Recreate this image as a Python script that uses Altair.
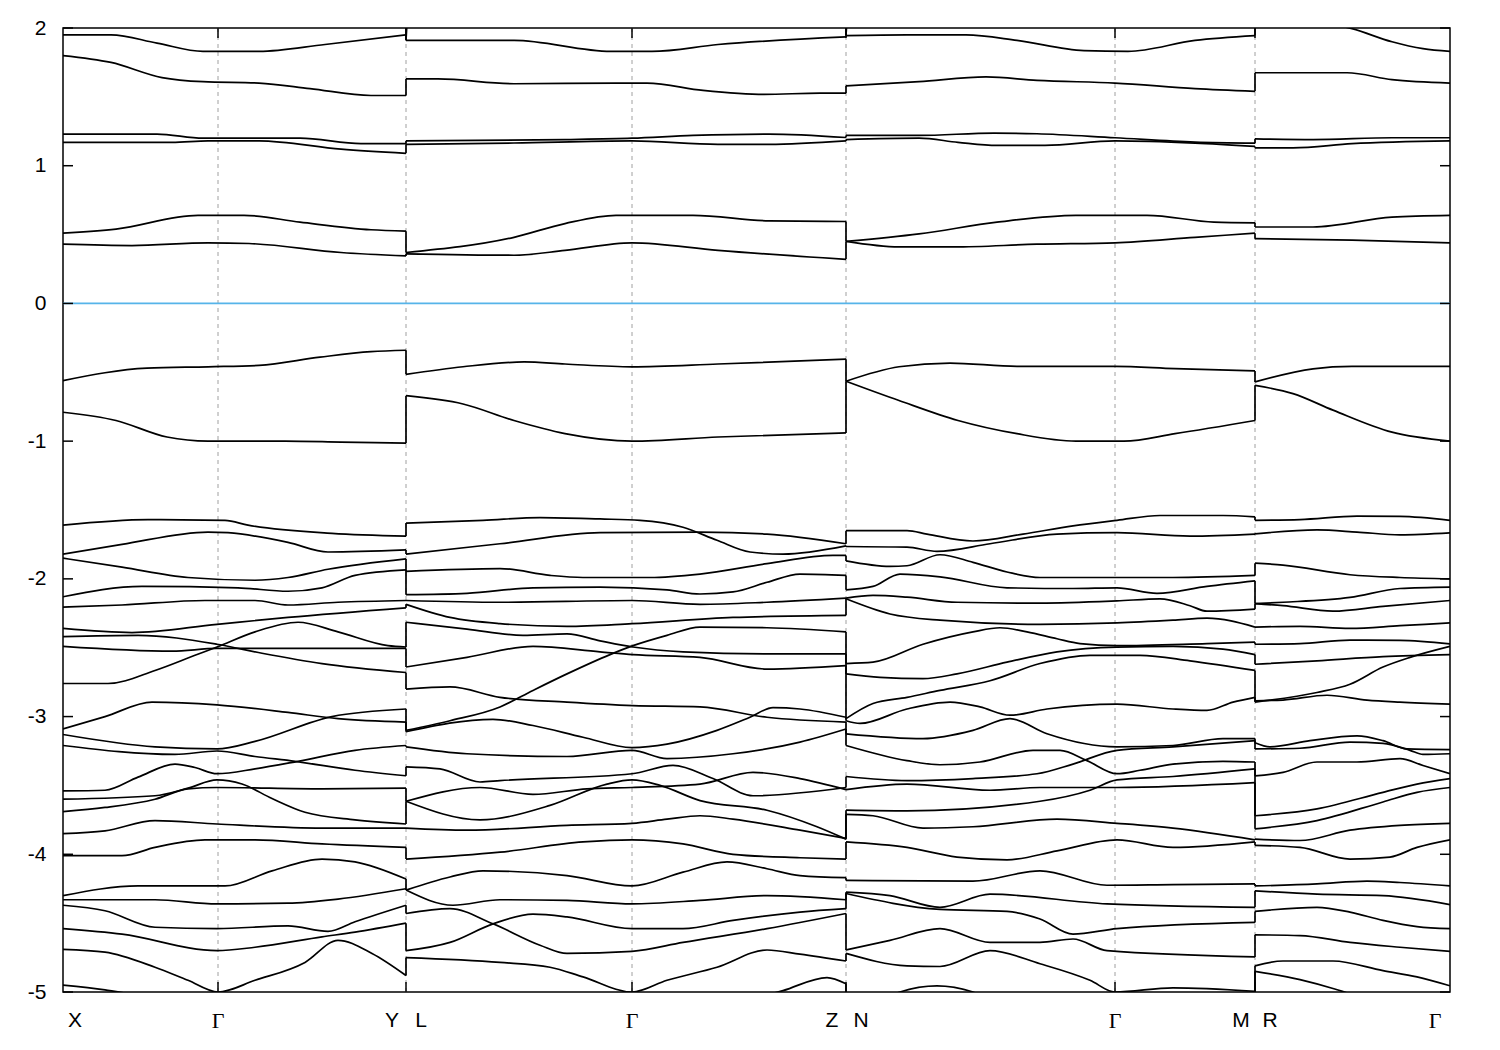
import altair as alt
import pandas as pd

# ---------------- high-symmetry points (k-path distance) ----------------
K_X, K_G1, K_Y, K_G2, K_Z, K_G3, K_M, K_G4 = 0.0, 1.55, 3.43, 5.69, 7.83, 10.52, 11.92, 13.87
TICK_K = [K_G1, K_Y, K_G2, K_Z, K_G3, K_M]
CENTER_LABELS = ["Γ", "Γ", "Γ"]
CENTER_K = [K_G1, K_G2, K_G3]
LEFT_LABELS = ["Y", "Z", "M"]
RIGHT_LABELS = ["L", "N", "R"]
BREAK_K = [K_Y, K_Z, K_M]
Y_TICKS = [-5, -4, -3, -2, -1, 0, 1, 2]
E_MIN, E_MAX = -5.0, 2.0

# ---------------- panel 1 : X - Gamma - Y ----------------
P1_C7 = ([0, 3.43], [2.30, 2.20])
P1_C6 = ([0, 0.48, 0.94, 1.40, 1.96, 2.62, 3.43], [1.95, 1.95, 1.89, 1.83, 1.83, 1.88, 1.95])
P1_C5 = ([0, 0.48, 0.99, 1.40, 1.96, 2.47, 3.08, 3.43], [1.80, 1.75, 1.64, 1.61, 1.60, 1.56, 1.51, 1.51])
P1_C4 = ([0, 0.94, 1.40, 2.37, 2.98, 3.43], [1.23, 1.23, 1.20, 1.20, 1.16, 1.16])
P1_C3 = ([0, 1.09, 1.45, 1.96, 2.78, 3.43], [1.17, 1.17, 1.18, 1.18, 1.12, 1.09])
P1_C2 = ([0, 0.53, 1.35, 1.81, 2.37, 3.08, 3.43], [0.51, 0.54, 0.64, 0.64, 0.59, 0.535, 0.525])
P1_C1 = ([0, 0.69, 1.45, 1.86, 2.78, 3.43], [0.43, 0.42, 0.44, 0.435, 0.37, 0.345])
P1_V1 = ([0, 0.84, 1.45, 1.96, 2.57, 3.08, 3.43], [-0.56, -0.47, -0.46, -0.45, -0.39, -0.35, -0.34])
P1_V2 = ([0, 0.53, 1.04, 1.45, 2.22, 2.78, 3.43], [-0.79, -0.85, -0.97, -1.0, -1.0, -1.007, -1.015])
P1_a = ([0, 0.85, 1.62, 1.85, 2.69, 3.43], [-1.61, -1.57, -1.575, -1.61, -1.67, -1.69])
P1_b = ([0, 0.59, 1.45, 1.65, 2.25, 2.65, 3.43], [-1.82, -1.75, -1.66, -1.665, -1.735, -1.805, -1.79])
P1_c = ([0, 0.59, 1.25, 1.92, 2.25, 2.65, 3.43], [-1.85, -1.915, -1.99, -2.01, -1.99, -1.93, -1.855])
P1_d = ([0, 0.79, 1.75, 2.25, 2.59, 2.92, 3.43], [-2.13, -2.055, -2.065, -2.09, -2.065, -1.975, -1.935])
P1_e = ([0, 0.59, 1.42, 1.92, 2.25, 2.75, 3.43], [-2.205, -2.19, -2.157, -2.157, -2.19, -2.17, -2.157])
P1_f = ([0, 0.69, 1.54, 2.25, 3.43], [-2.36, -2.39, -2.33, -2.28, -2.21])
P1_g = ([0, 0.75, 1.54, 1.99, 2.59, 3.43], [-2.42, -2.41, -2.475, -2.54, -2.615, -2.68])
P1_h = ([0, 1.09, 1.54, 3.43], [-2.49, -2.525, -2.505, -2.505])
P1_i = ([0, 0.45, 0.92, 1.32, 1.54, 1.92, 2.35, 2.75, 3.25, 3.43],
        [-2.76, -2.76, -2.665, -2.555, -2.495, -2.385, -2.315, -2.385, -2.485, -2.495])
P1_j = ([0, 0.42, 0.89, 1.54, 2.25, 2.75, 3.43], [-3.09, -3.0, -2.895, -2.915, -2.97, -3.015, -3.04])
P1_k = ([0, 0.92, 1.54, 1.92, 2.69, 3.43], [-3.13, -3.22, -3.235, -3.18, -3.0, -2.945])
P1_l = ([0, 1.12, 1.54, 1.92, 2.32, 2.92, 3.43], [-3.21, -3.275, -3.25, -3.29, -3.325, -3.39, -3.43])
P1_m = ([0, 0.42, 0.75, 1.12, 1.32, 1.54, 1.92, 2.35, 2.92, 3.43],
        [-3.54, -3.535, -3.44, -3.345, -3.37, -3.415, -3.38, -3.325, -3.245, -3.21])
P1_n = ([0, 0.92, 1.25, 1.54, 1.79, 2.09, 2.42, 2.92, 3.43],
        [-3.60, -3.575, -3.52, -3.46, -3.49, -3.595, -3.695, -3.75, -3.78])
P1_o = ([0, 0.42, 0.92, 1.25, 1.54, 2.59, 3.43], [-3.69, -3.66, -3.60, -3.525, -3.515, -3.525, -3.52])
P1_p = ([0, 0.42, 0.92, 1.54, 2.59, 3.43], [-3.85, -3.83, -3.755, -3.78, -3.81, -3.81])
P1_q = ([0, 0.59, 0.92, 1.42, 1.92, 2.59, 3.43], [-4.01, -4.01, -3.95, -3.895, -3.895, -3.925, -3.95])
P1_r = ([0, 0.75, 1.62, 2.09, 2.59, 2.92, 3.43], [-4.30, -4.23, -4.23, -4.12, -4.035, -4.055, -4.18])
P1_s = ([0, 0.92, 1.54, 2.25, 2.75, 3.43], [-4.33, -4.33, -4.36, -4.355, -4.325, -4.25])
P1_t = ([0, 0.42, 0.92, 1.54, 2.25, 2.65, 2.92, 3.43], [-4.37, -4.41, -4.53, -4.54, -4.52, -4.56, -4.49, -4.37])
P1_u = ([0, 0.59, 1.54, 1.92, 2.59, 2.92, 3.43], [-4.54, -4.58, -4.70, -4.675, -4.60, -4.565, -4.50])
P1_v = ([0, 0.42, 0.92, 1.25, 1.55, 1.92, 2.42, 2.75, 3.09, 3.43],
        [-4.69, -4.71, -4.82, -4.915, -5.0, -4.915, -4.785, -4.625, -4.72, -4.88])
P1_w = ([0, 0.42, 0.75, 1.0], [-4.95, -4.985, -5.03, -5.1])

# ---------------- panel 2 : L - Gamma - Z ----------------
P2_C7 = ([3.43, 3.47, 7.79, 7.83], [1.912, 2.25, 2.25, 2.20])
P2_C6 = ([3.43, 4.51, 5.48, 5.89, 6.55, 7.83], [1.91, 1.91, 1.83, 1.83, 1.88, 1.935])
P2_C5 = ([3.43, 3.75, 4.51, 5.53, 5.84, 6.40, 7.01, 7.57, 7.83], [1.63, 1.63, 1.595, 1.60, 1.60, 1.547, 1.518, 1.527, 1.527])
P2_C4 = ([3.43, 5.02, 5.69, 6.30, 7.06, 7.83], [1.18, 1.19, 1.20, 1.22, 1.23, 1.205])
P2_C3 = ([3.43, 4.51, 5.69, 6.55, 7.06, 7.83], [1.155, 1.165, 1.18, 1.155, 1.155, 1.18])
P2_C2 = ([3.43, 4.51, 5.02, 5.53, 6.30, 7.06, 7.83], [0.37, 0.48, 0.58, 0.64, 0.64, 0.60, 0.595])
P2_C1 = ([3.43, 4.51, 5.02, 5.69, 6.55, 7.83], [0.36, 0.35, 0.385, 0.44, 0.385, 0.32])
P2_V1 = ([3.43, 4.0, 4.61, 5.02, 5.69, 6.55, 7.83], [-0.515, -0.46, -0.425, -0.44, -0.46, -0.44, -0.405])
P2_V2 = ([3.43, 4.0, 4.51, 5.02, 5.69, 6.55, 7.83], [-0.67, -0.73, -0.85, -0.945, -1.0, -0.97, -0.94])
P2_a = ([3.43, 4.20, 4.77, 5.37, 5.77, 6.20, 6.54, 6.87, 7.20, 7.83],
        [-1.595, -1.575, -1.555, -1.565, -1.575, -1.625, -1.72, -1.805, -1.82, -1.76])
P2_b = ([3.43, 4.37, 5.37, 6.37, 7.04, 7.83], [-1.82, -1.745, -1.665, -1.66, -1.675, -1.745])
P2_c = ([3.43, 4.37, 4.87, 5.20, 5.87, 6.37, 7.04, 7.70, 7.83], [-1.945, -1.925, -1.975, -1.99, -1.99, -1.965, -1.89, -1.83, -1.83])
P2_d = ([3.43, 4.04, 4.70, 5.37, 6.04, 6.37, 6.70, 7.04, 7.37, 7.83],
        [-2.115, -2.105, -2.065, -2.06, -2.08, -2.11, -2.095, -2.025, -1.965, -1.975])
P2_e = ([3.43, 4.37, 5.69, 6.37, 7.04, 7.83], [-2.157, -2.17, -2.157, -2.185, -2.17, -2.14])
P2_f = ([3.43, 3.87, 4.37, 5.04, 5.69, 6.70, 7.83], [-2.185, -2.28, -2.325, -2.345, -2.325, -2.28, -2.265])
P2_g = ([3.43, 4.04, 4.60, 5.04, 5.37, 5.70, 6.20, 7.04, 7.83], [-2.315, -2.365, -2.41, -2.40, -2.45, -2.495, -2.53, -2.545, -2.545])
P2_h = ([3.43, 3.87, 4.37, 4.70, 5.04, 5.47, 5.70, 6.04, 6.37, 7.04, 7.83],
        [-3.10, -3.03, -2.93, -2.81, -2.69, -2.55, -2.485, -2.41, -2.35, -2.355, -2.385])
P2_i = ([3.43, 4.04, 4.70, 5.37, 5.70, 6.37, 7.04, 7.83], [-2.64, -2.57, -2.49, -2.53, -2.55, -2.57, -2.655, -2.63])
P2_j = ([3.43, 3.87, 4.37, 5.04, 5.70, 6.37, 7.04, 7.83], [-2.80, -2.785, -2.86, -2.895, -2.92, -2.93, -3.005, -3.04])
P2_k = ([3.43, 4.30, 4.70, 5.20, 5.69, 6.04, 6.54, 6.87, 7.10, 7.37, 7.83],
        [-3.11, -3.02, -3.065, -3.15, -3.225, -3.20, -3.10, -3.005, -2.935, -2.945, -3.005])
P2_l = ([3.43, 4.04, 5.04, 5.69, 6.04, 6.70, 7.37, 7.83], [-3.22, -3.27, -3.29, -3.245, -3.305, -3.27, -3.185, -3.09])
P2_m = ([3.43, 3.77, 4.17, 4.37, 5.69, 6.10, 6.50, 6.90, 7.83], [-3.365, -3.38, -3.475, -3.465, -3.415, -3.355, -3.45, -3.575, -3.515])
P2_n = ([3.43, 4.17, 4.70, 5.24, 5.69, 6.37, 6.90, 7.37, 7.83], [-3.615, -3.515, -3.565, -3.525, -3.515, -3.49, -3.405, -3.45, -3.53])
P2_o = ([3.43, 4.17, 4.87, 5.44, 5.69, 5.97, 6.37, 7.04, 7.54, 7.83],
        [-3.615, -3.75, -3.645, -3.49, -3.46, -3.50, -3.61, -3.68, -3.80, -3.89])
P2_p = ([3.43, 4.04, 5.04, 5.69, 6.04, 6.37, 6.70, 7.37, 7.83], [-3.81, -3.825, -3.79, -3.775, -3.745, -3.72, -3.745, -3.825, -3.885])
P2_q = ([3.43, 4.37, 5.20, 5.69, 6.20, 6.70, 7.37, 7.83], [-4.035, -3.985, -3.91, -3.895, -3.925, -4.0, -4.025, -4.035])
P2_r = ([3.43, 3.87, 4.20, 5.04, 5.69, 6.20, 6.64, 7.04, 7.37, 7.83],
        [-4.26, -4.165, -4.12, -4.155, -4.23, -4.13, -4.055, -4.105, -4.155, -4.17])
P2_s = ([3.43, 3.90, 4.37, 5.04, 5.69, 6.37, 7.04, 7.83], [-4.26, -4.37, -4.33, -4.335, -4.36, -4.335, -4.30, -4.33])
P2_t = ([3.43, 3.87, 4.30, 4.77, 5.04, 5.69, 6.20, 7.04, 7.83], [-4.43, -4.395, -4.505, -4.66, -4.72, -4.705, -4.64, -4.54, -4.43])
P2_u = ([3.43, 3.87, 4.30, 4.70, 5.04, 5.69, 6.20, 6.70, 7.37, 7.83],
        [-4.70, -4.64, -4.505, -4.435, -4.455, -4.54, -4.54, -4.48, -4.42, -4.395])
P2_v = ([3.43, 4.37, 4.87, 5.20, 5.69, 6.04, 6.54, 7.04, 7.37, 7.83],
        [-4.75, -4.785, -4.82, -4.89, -5.0, -4.915, -4.82, -4.695, -4.725, -4.775])
P2_w = ([6.9, 7.2, 7.64, 7.83], [-5.05, -4.99, -4.895, -4.94])

# ---------------- panel 3 : N - Gamma - M ----------------
P3_C7 = ([7.83, 7.87, 11.92], [1.947, 2.25, 2.30])
P3_C6 = ([7.83, 8.44, 9.03, 9.54, 10.21, 10.65, 11.32, 11.92], [1.945, 1.95, 1.95, 1.91, 1.835, 1.83, 1.91, 1.945])
P3_C5 = ([7.83, 8.56, 9.23, 9.74, 10.52, 11.32, 11.92], [1.58, 1.61, 1.645, 1.62, 1.60, 1.56, 1.54])
P3_C4 = ([7.83, 8.56, 9.31, 9.74, 10.52, 11.32, 11.92], [1.22, 1.22, 1.237, 1.232, 1.203, 1.172, 1.164])
P3_C3 = ([7.83, 8.56, 8.95, 9.34, 9.82, 10.52, 11.32, 11.92], [1.19, 1.20, 1.17, 1.148, 1.148, 1.18, 1.164, 1.14])
P3_C2 = ([7.83, 8.56, 9.34, 10.13, 10.84, 11.51, 11.92], [0.45, 0.505, 0.59, 0.64, 0.64, 0.59, 0.585])
P3_C1 = ([7.83, 8.36, 8.91, 9.74, 10.52, 11.32, 11.92], [0.45, 0.41, 0.41, 0.43, 0.44, 0.48, 0.51])
P3_V1 = ([7.83, 8.36, 8.87, 9.54, 10.52, 11.12, 11.92], [-0.565, -0.46, -0.433, -0.457, -0.457, -0.474, -0.49])
P3_V2 = ([7.83, 8.36, 8.95, 9.54, 10.13, 10.61, 11.12, 11.92], [-0.565, -0.705, -0.85, -0.946, -1.0, -1.0, -0.946, -0.85])
P3_a = ([7.83, 8.44, 8.64, 9.10, 9.60, 10.10, 10.54, 10.97, 11.60, 11.92],
        [-1.65, -1.65, -1.675, -1.725, -1.675, -1.615, -1.575, -1.54, -1.54, -1.55])
P3_b = ([7.83, 8.44, 8.74, 9.27, 9.94, 10.54, 11.27, 11.92], [-1.765, -1.77, -1.80, -1.745, -1.675, -1.665, -1.69, -1.675])
P3_c = ([7.83, 8.27, 8.44, 8.77, 9.10, 9.44, 9.77, 10.54, 11.10, 11.92],
        [-1.87, -1.91, -1.905, -1.825, -1.88, -1.95, -1.99, -1.99, -1.99, -1.975])
P3_d = ([7.83, 8.10, 8.37, 8.77, 9.44, 10.10, 10.54, 10.94, 11.44, 11.92],
        [-2.08, -2.055, -1.965, -1.985, -2.065, -2.07, -2.065, -2.105, -2.055, -2.015])
P3_e = ([7.83, 8.10, 8.44, 8.94, 9.77, 10.54, 10.97, 11.27, 11.44, 11.92],
        [-2.14, -2.12, -2.133, -2.17, -2.176, -2.16, -2.145, -2.195, -2.235, -2.22])
P3_f = ([7.83, 8.27, 8.77, 9.77, 10.54, 11.10, 11.44, 11.92], [-2.145, -2.255, -2.30, -2.33, -2.32, -2.30, -2.285, -2.35])
P3_g = ([7.83, 8.10, 8.60, 9.10, 9.37, 9.64, 9.94, 10.17, 10.54, 11.44, 11.92],
        [-2.615, -2.605, -2.475, -2.385, -2.355, -2.385, -2.435, -2.47, -2.485, -2.47, -2.46])
P3_h = ([7.83, 8.17, 8.60, 8.94, 9.44, 9.94, 10.54, 11.10, 11.60, 11.92],
        [-2.69, -2.715, -2.725, -2.69, -2.605, -2.53, -2.495, -2.49, -2.51, -2.55])
P3_i = ([7.83, 8.10, 8.44, 8.77, 9.27, 9.77, 10.27, 10.77, 11.27, 11.92],
        [-3.015, -2.905, -2.86, -2.81, -2.74, -2.615, -2.555, -2.555, -2.595, -2.665])
P3_j = ([7.83, 7.97, 8.44, 8.87, 9.17, 9.47, 9.84, 10.54, 11.10, 11.44, 11.70, 11.92],
        [-3.03, -3.05, -2.945, -2.895, -2.93, -2.99, -2.945, -2.91, -2.945, -2.955, -2.895, -2.86])
P3_k = ([7.83, 8.60, 9.10, 9.47, 9.84, 10.54, 11.10, 11.60, 11.92], [-3.125, -3.16, -3.10, -3.015, -3.125, -3.22, -3.21, -3.16, -3.16])
P3_l = ([7.83, 8.44, 8.77, 9.17, 9.70, 9.97, 10.24, 10.54, 10.77, 11.10, 11.60, 11.92],
        [-3.21, -3.32, -3.35, -3.33, -3.245, -3.245, -3.32, -3.415, -3.39, -3.345, -3.325, -3.33])
P3_m = ([7.83, 8.44, 9.10, 9.74, 10.10, 10.54, 11.10, 11.92], [-3.435, -3.465, -3.45, -3.415, -3.345, -3.245, -3.22, -3.175])
P3_n = ([7.83, 8.44, 9.27, 9.77, 10.54, 11.92], [-3.53, -3.49, -3.535, -3.515, -3.515, -3.48])
P3_o = ([7.83, 8.44, 9.77, 10.27, 10.54, 11.10, 11.92], [-3.68, -3.685, -3.615, -3.535, -3.46, -3.435, -3.38])
P3_p = ([7.83, 8.10, 8.60, 9.10, 9.94, 10.54, 11.10, 11.92], [-3.71, -3.72, -3.81, -3.80, -3.745, -3.775, -3.81, -3.895])
P3_q = ([7.83, 8.44, 8.94, 9.44, 9.94, 10.54, 11.10, 11.92], [-3.91, -3.95, -4.02, -4.04, -3.975, -3.895, -3.95, -3.91])
P3_r = ([7.83, 9.10, 9.77, 10.44, 11.10, 11.92], [-4.19, -4.195, -4.12, -4.225, -4.22, -4.215])
P3_s = ([7.83, 8.27, 8.77, 9.27, 10.44, 11.92], [-4.275, -4.30, -4.385, -4.29, -4.36, -4.385])
P3_t = ([7.83, 8.77, 9.44, 9.77, 10.10, 10.54, 11.92], [-4.285, -4.40, -4.415, -4.47, -4.58, -4.54, -4.495])
P3_u = ([7.83, 8.27, 8.77, 9.27, 9.77, 10.10, 10.44, 11.92], [-4.695, -4.625, -4.54, -4.64, -4.64, -4.615, -4.70, -4.745])
P3_v = ([7.83, 8.44, 8.77, 9.27, 9.77, 10.27, 10.52, 11.10, 11.92], [-4.72, -4.81, -4.815, -4.70, -4.795, -4.915, -5.0, -4.97, -4.995])
P3_nlow = ([7.83, 8.0], [-5.05, -5.2])
P3_bump = ([8.2, 8.37, 8.74, 9.10, 9.3], [-5.06, -5.0, -4.955, -5.0, -5.06])
P3_mlow = ([11.7, 11.92], [-5.2, -5.1])

# ---------------- panel 4 : R - Gamma ----------------
P4_C7 = ([11.92, 13.87], [2.40, 2.30])
P4_C6 = ([11.92, 12.5, 12.89, 13.29, 13.60, 13.87], [2.08, 2.05, 1.995, 1.90, 1.85, 1.83])
P4_C5 = ([11.92, 12.84, 13.29, 13.87], [1.675, 1.675, 1.625, 1.60])
P4_C4 = ([11.92, 12.5, 13.29, 13.87], [1.195, 1.19, 1.203, 1.203])
P4_C3 = ([11.92, 12.3, 12.89, 13.87], [1.13, 1.13, 1.16, 1.18])
P4_C2 = ([11.92, 12.5, 13.29, 13.87], [0.555, 0.555, 0.627, 0.64])
P4_C1 = ([11.92, 12.89, 13.87], [0.47, 0.46, 0.44])
P4_V1 = ([11.92, 12.5, 12.89, 13.87], [-0.57, -0.475, -0.457, -0.457])
P4_V2 = ([11.92, 12.3, 12.7, 13.29, 13.87], [-0.595, -0.655, -0.775, -0.935, -1.0])
P4_a = ([11.92, 12.37, 12.94, 13.37, 13.87], [-1.575, -1.57, -1.545, -1.547, -1.575])
P4_b = ([11.92, 12.54, 12.94, 13.37, 13.87], [-1.673, -1.645, -1.66, -1.68, -1.666])
P4_c = ([11.92, 12.20, 12.87, 13.37, 13.87], [-1.886, -1.90, -1.97, -1.99, -2.0])
P4_d = ([11.92, 12.20, 12.87, 13.37, 13.87], [-2.18, -2.17, -2.135, -2.07, -2.06])
P4_e = ([11.92, 12.20, 12.70, 13.20, 13.87], [-2.18, -2.195, -2.235, -2.20, -2.157])
P4_f = ([11.92, 12.37, 12.87, 13.37, 13.87], [-2.35, -2.345, -2.36, -2.34, -2.32])
P4_g = ([11.92, 12.37, 12.87, 13.37, 13.87], [-2.475, -2.47, -2.445, -2.447, -2.472])
P4_h = ([11.92, 12.54, 13.20, 13.87], [-2.62, -2.595, -2.565, -2.55])
P4_i = ([11.92, 12.54, 12.87, 13.20, 13.47, 13.87], [-2.895, -2.825, -2.765, -2.64, -2.57, -2.49])
P4_j = ([11.92, 12.20, 12.64, 13.04, 13.37, 13.87], [-2.885, -2.88, -2.845, -2.88, -2.895, -2.91])
P4_x1 = ([11.92, 12.07, 12.47, 12.94, 13.20, 13.44, 13.87], [-3.19, -3.22, -3.175, -3.14, -3.175, -3.235, -3.24])
P4_x2 = ([11.92, 12.37, 12.87, 13.20, 13.47, 13.60, 13.87], [-3.235, -3.23, -3.185, -3.195, -3.245, -3.275, -3.27])
P4_y1 = ([11.92, 12.20, 12.54, 12.94, 13.37, 13.60, 13.87], [-3.43, -3.405, -3.33, -3.33, -3.305, -3.355, -3.415])
P4_y2 = ([11.92, 12.54, 13.20, 13.54, 13.87], [-3.72, -3.67, -3.55, -3.49, -3.45])
P4_y3 = ([11.92, 12.54, 13.20, 13.54, 13.87], [-3.815, -3.755, -3.62, -3.55, -3.515])
P4_y4 = ([11.92, 12.37, 12.87, 13.37, 13.87], [-3.89, -3.90, -3.825, -3.79, -3.775])
P4_y5 = ([11.92, 12.37, 12.87, 13.27, 13.54, 13.87], [-3.935, -3.95, -4.035, -4.02, -3.95, -3.895])
P4_y6 = ([11.92, 12.54, 13.04, 13.37, 13.87], [-4.23, -4.215, -4.195, -4.205, -4.23])
P4_y7 = ([11.92, 12.54, 13.20, 13.87], [-4.265, -4.29, -4.30, -4.365])
P4_y8 = ([11.92, 12.54, 12.87, 13.20, 13.54, 13.87], [-4.415, -4.385, -4.42, -4.48, -4.525, -4.54])
P4_y9 = ([11.92, 12.37, 12.87, 13.37, 13.87], [-4.585, -4.59, -4.64, -4.675, -4.705])
P4_y10 = ([11.92, 12.20, 12.70, 13.20, 13.54, 13.87], [-4.81, -4.775, -4.775, -4.845, -4.89, -4.955])
P4_y11 = ([11.92, 12.37, 12.70, 12.87, 13.0], [-4.85, -4.91, -4.975, -5.015, -5.06])

PANELS = [
    ("P1", K_X, K_Y, [P1_C7, P1_C6, P1_C5, P1_C4, P1_C3, P1_C2, P1_C1, P1_V1, P1_V2, P1_a, P1_b, P1_c, P1_d, P1_e,
                      P1_f, P1_g, P1_h, P1_i, P1_j, P1_k, P1_l, P1_m, P1_n, P1_o, P1_p, P1_q, P1_r, P1_s,
                      P1_t, P1_u, P1_v, P1_w]),
    ("P2", K_Y, K_Z, [P2_C7, P2_C6, P2_C5, P2_C4, P2_C3, P2_C2, P2_C1, P2_V1, P2_V2, P2_a, P2_b, P2_c, P2_d, P2_e,
                      P2_f, P2_g, P2_h, P2_i, P2_j, P2_k, P2_l, P2_m, P2_n, P2_o, P2_p, P2_q, P2_r, P2_s,
                      P2_t, P2_u, P2_v, P2_w]),
    ("P3", K_Z, K_M, [P3_C7, P3_C6, P3_C5, P3_C4, P3_C3, P3_C2, P3_C1, P3_V1, P3_V2, P3_a, P3_b, P3_c, P3_d, P3_e,
                      P3_f, P3_g, P3_h, P3_i, P3_j, P3_k, P3_l, P3_m, P3_n, P3_o, P3_p, P3_q, P3_r, P3_s,
                      P3_t, P3_u, P3_v, P3_nlow, P3_bump, P3_mlow]),
    ("P4", K_M, K_G4, [P4_C7, P4_C6, P4_C5, P4_C4, P4_C3, P4_C2, P4_C1, P4_V1, P4_V2, P4_a, P4_b, P4_c, P4_d, P4_e,
                       P4_f, P4_g, P4_h, P4_i, P4_j, P4_x1, P4_x2, P4_y1, P4_y2, P4_y3, P4_y4, P4_y5,
                       P4_y6, P4_y7, P4_y8, P4_y9, P4_y10, P4_y11]),
]

# ---------------- build tables ----------------
rows = []
ends = {kb: ([], []) for kb in BREAK_K}
for pname, k0, k1, curves in PANELS:
    for ci, (ks, es) in enumerate(curves):
        for i, (kk, ee) in enumerate(zip(ks, es)):
            rows.append({"id": f"{pname}_{ci}", "k": kk, "E": ee, "i": i})
        if k0 in ends and abs(ks[0] - k0) < 1e-6:
            ends[k0][1].append(es[0])
        if k1 in ends and abs(ks[-1] - k1) < 1e-6:
            ends[k1][0].append(es[-1])
bands_df = pd.DataFrame(rows)

jrows = []
for kb, (left, right) in ends.items():
    for a, b in zip(sorted(left, reverse=True), sorted(right, reverse=True)):
        jrows.append({"k": kb, "e1": a, "e2": b})
jumps_df = pd.DataFrame(jrows)

W, H = 1387, 964
xs = alt.Scale(domain=[K_X, K_G4], nice=False, zero=False)
ys = alt.Scale(domain=[E_MIN, E_MAX], nice=False, zero=False)
yaxis = alt.Axis(values=Y_TICKS, ticks=False, domain=False, grid=False, title=None,
                 labelExpr="'' + datum.value",
                 labelFont="Liberation Sans", labelFontSize=21, labelColor="black", labelPadding=17)
X = lambda f: alt.X(f, scale=xs, axis=None)
Y = lambda f: alt.Y(f, scale=ys, axis=yaxis)

grid = alt.Chart(pd.DataFrame({"k": TICK_K})).mark_rule(
    color="#a0a0a0", strokeWidth=1, strokeDash=[4, 4]).encode(x=X("k:Q"))

zero = alt.Chart(pd.DataFrame({"E": [0.0]})).mark_rule(
    color="#56B4E9", strokeWidth=1.8).encode(y=Y("E:Q"))

bands = alt.Chart(bands_df).mark_line(
    color="black", strokeWidth=1.7, interpolate="monotone", clip=True).encode(
    x=X("k:Q"), y=Y("E:Q"), detail="id:N", order="i:Q")

jumps = alt.Chart(jumps_df).mark_rule(color="black", strokeWidth=1.7, clip=True).encode(
    x=X("k:Q"), y=Y("e1:Q"), y2="e2:Q")

ytick_df = pd.DataFrame({"E": Y_TICKS})
ytl = alt.Chart(ytick_df).mark_rule(color="black", strokeWidth=1.5).encode(
    y=Y("E:Q"), x=alt.value(0), x2=alt.value(10))
ytr = alt.Chart(ytick_df).mark_rule(color="black", strokeWidth=1.5).encode(
    y=Y("E:Q"), x=alt.value(W - 10), x2=alt.value(W))
xtick_df = pd.DataFrame({"k": TICK_K})
xtt = alt.Chart(xtick_df).mark_rule(color="black", strokeWidth=1.5).encode(
    x=X("k:Q"), y=alt.value(0), y2=alt.value(10))
xtb = alt.Chart(xtick_df).mark_rule(color="black", strokeWidth=1.5).encode(
    x=X("k:Q"), y=alt.value(H - 10), y2=alt.value(H))

LAB_Y = H + 29
txt = dict(font="Liberation Sans", fontSize=21, color="black", baseline="middle", align="center")
gtxt = dict(font="Liberation Serif", fontSize=22, color="black", baseline="middle", align="center")
lab_c = alt.Chart(pd.DataFrame({"k": CENTER_K, "t": CENTER_LABELS})).mark_text(**gtxt).encode(
    x=X("k:Q"), y=alt.value(LAB_Y), text="t:N")
lab_l = alt.Chart(pd.DataFrame({"k": BREAK_K, "t": LEFT_LABELS})).mark_text(dx=-14, **txt).encode(
    x=X("k:Q"), y=alt.value(LAB_Y), text="t:N")
lab_r = alt.Chart(pd.DataFrame({"k": BREAK_K, "t": RIGHT_LABELS})).mark_text(dx=15, **txt).encode(
    x=X("k:Q"), y=alt.value(LAB_Y), text="t:N")
lab_first = alt.Chart(pd.DataFrame({"k": [K_X], "t": ["X"]})).mark_text(dx=12, **txt).encode(
    x=X("k:Q"), y=alt.value(LAB_Y), text="t:N")
lab_last = alt.Chart(pd.DataFrame({"k": [K_G4], "t": ["Γ"]})).mark_text(dx=-15, **gtxt).encode(
    x=X("k:Q"), y=alt.value(LAB_Y), text="t:N")

chart = alt.layer(grid, zero, bands, jumps, ytl, ytr, xtt, xtb,
                  lab_c, lab_l, lab_r, lab_first, lab_last).properties(
    width=W, height=H,
    padding={"left": 55, "top": 20, "right": 30, "bottom": 45},
    autosize=alt.AutoSizeParams(type="none"),
    background="white",
).configure_view(stroke="black", strokeWidth=1.5)

chart.save("out.html", embed_options={"renderer": "svg", "actions": False})
